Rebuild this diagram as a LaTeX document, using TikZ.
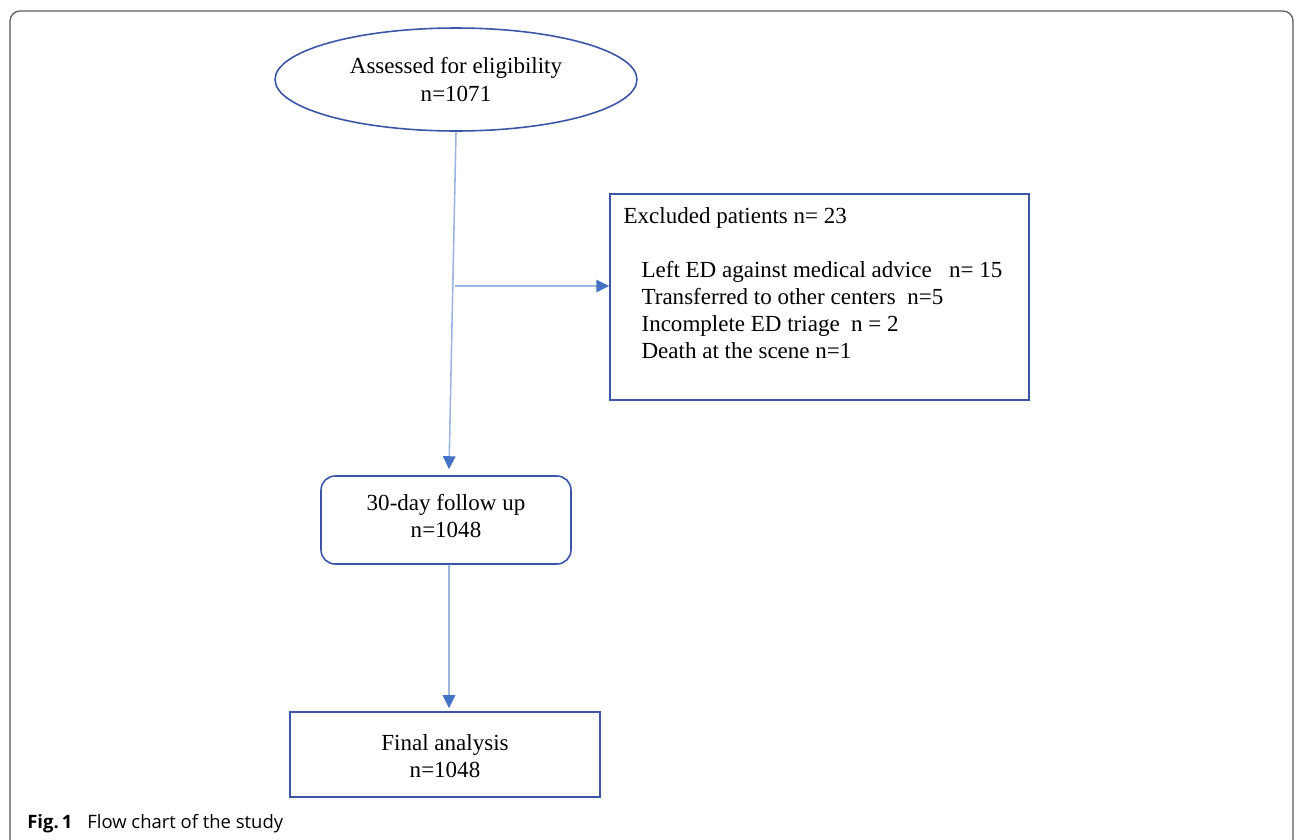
\documentclass[tikz,border=0pt]{standalone}
\usepackage{fontspec}
\setmainfont{Liberation Serif}
\newfontfamily\capfont{Open Sans}
\usepackage{xcolor}
\usetikzlibrary{shapes.geometric,arrows.meta,positioning}

\definecolor{boxblue}{HTML}{3B55A6}
\definecolor{linkblue}{HTML}{9DB5E0}
\definecolor{tipblue}{HTML}{4472C4}

\begin{document}
\begin{tikzpicture}[x=0.02cm, y=-0.02cm,
  every node/.style={font=\fontsize{13.1}{15.4}\selectfont},
  box/.style={draw=boxblue, line width=0.9pt, rectangle, inner sep=0pt, align=center},
  oval/.style={draw=boxblue, line width=0.9pt, ellipse, inner sep=0pt, align=center},
  flow/.style={draw=linkblue, line width=0.9pt, -{Triangle[color=tipblue, length=0.26cm, width=0.25cm]}}]
\useasboundingbox (0,0) rectangle (1295,839);
\clip (0,0) rectangle (1295,839);
% outer frame
\draw[black!65, line width=0.7pt, rounded corners=0.2cm] (10,11) rectangle (1293,850);

% boxes
\node[oval, minimum width=7.24cm, minimum height=2.06cm] (assess) at (456,79.5) {Assessed for eligibility\\n=1071};
\node[box, minimum width=8.38cm, minimum height=4.12cm] (excl) at (819.5,297) {};
\node[anchor=north west, align=left, inner sep=0pt] (excltext) at ([shift={(14,14)}]excl.north west)
  {Excluded patients n= 23\\[15.4pt]
   \hspace{0.36cm}Left ED against medical advice\ \ \ n= 15\\
   \hspace{0.36cm}Transferred to other centers\ \ n=5\\
   \hspace{0.36cm}Incomplete ED triage\ \ n = 2\\
   \hspace{0.36cm}Death at the scene n=1};
\node[box, rounded corners=0.28cm, minimum width=5cm, minimum height=1.76cm] (follow) at (446,520) {};
\node[align=center, inner sep=0pt] (followtext) at (446,516) {30-day follow up\\n=1048};
\node[box, minimum width=6.2cm, minimum height=1.7cm] (final) at (445,754.5) {};
\node[align=center, inner sep=0pt] (finaltext) at (445,756) {Final analysis\\n=1048};

% arrows
\coordinate (branch) at (455,286);
\draw[flow] (assess.south) -- ([shift={(3,-6)}]follow.north);
\draw[flow] (branch) -- (branch -| excl.west);
\draw[flow] ([xshift=0.06cm]follow.south) -- ([shift={(4,-3)}]final.north);

% caption
\node[anchor=base west, inner sep=0pt, font=\capfont\fontsize{10.5}{12}\selectfont] (caption) at (27,828)
  {\textbf{Fig.\,1}\hspace{0.3cm}Flow chart of the study};
\end{tikzpicture}
\end{document}
